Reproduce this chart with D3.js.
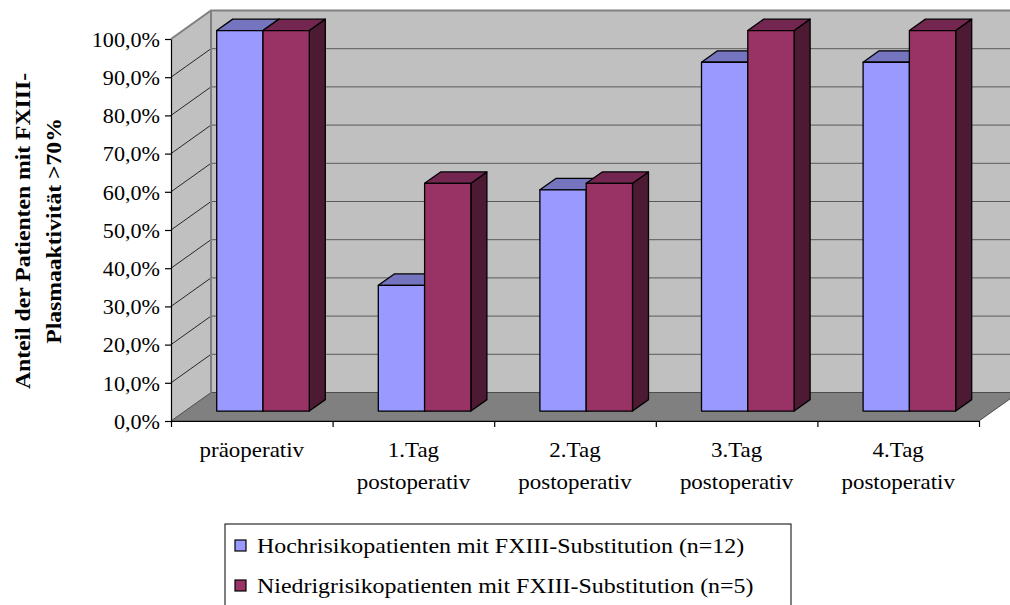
<!DOCTYPE html>
<html lang="de">
<head>
  <meta charset="UTF-8">
  <title>FXIII-Plasmaaktivität</title>
  <script src="https://cdnjs.cloudflare.com/ajax/libs/d3/7.8.5/d3.min.js"></script>
  <style>
    body {
      margin: 0;
      background: #fff;
      font-family: "Liberation Serif", "Times New Roman", serif;
    }
    svg text { fill: #000; }
  </style>
</head>
<body>
  <div id="chart"></div>
  <script>
    // Daten
    const categories = [["präoperativ"], ["1.Tag", "postoperativ"], ["2.Tag", "postoperativ"], ["3.Tag", "postoperativ"], ["4.Tag", "postoperativ"]];
    const seriesNames = ["Hochrisikopatienten mit FXIII-Substitution (n=12)", "Niedrigrisikopatienten mit FXIII-Substitution (n=5)"];
    const hochValues = [100, 33.3, 58.3, 91.7, 91.7];
    const niedrigValues = [100, 60, 60, 100, 100];
    const yTicks = [0, 10, 20, 30, 40, 50, 60, 70, 80, 90, 100];
    const yTitle = ["Anteil der Patienten mit FXIII-", "Plasmaaktivität >70%"];

    const width = 1010, height = 605;
    const DX = 40, DY = -28.5;           // Tiefe der Rückwand
    const f0 = 0.35, f1 = 0.75;          // Tiefenlage der Säulen
    const colors = [
      { front: "#9999ff", top: "#7474bf", side: "#4d4d80" },
      { front: "#993366", top: "#732650", side: "#4d1a33" }
    ];

    const svg = d3.select("#chart").append("svg")
      .attr("width", width)
      .attr("height", height);

    const x = d3.scaleBand().domain(d3.range(categories.length)).range([171, 979]);
    const xEdge = d3.scaleLinear().domain([0, categories.length]).range([171, 979]);
    const y = d3.scaleLinear().domain([0, 100]).range([421, 39]);
    const s = d3.scaleBand().domain([0, 1]).range([31.7, 124.3]);

    const x0 = x.range()[0], x1 = x.range()[1];
    const yb = y(0), yt = y(100);

    // Wände
    svg.append("polygon")
      .attr("points", [[x0, yt], [x0 + DX, yt + DY], [x0 + DX, yb + DY], [x0, yb]].join(" "))
      .attr("fill", "#c0c0c0");
    svg.append("rect")
      .attr("x", x0 + DX).attr("y", yt + DY)
      .attr("width", x1 - x0).attr("height", yb - yt)
      .attr("fill", "#c0c0c0");
    svg.append("polygon")
      .attr("points", [[x0, yb], [x0 + DX, yb + DY], [x1 + DX, yb + DY], [x1, yb]].join(" "))
      .attr("fill", "#808080")
      .attr("stroke", "#333").attr("stroke-width", 0.8);

    // Gitternetzlinien
    const grid = yTicks.filter(d => d > 0 && d < 100);
    svg.selectAll(".gridback").data(grid).enter().append("line")
      .attr("x1", x0 + DX).attr("x2", x1 + DX)
      .attr("y1", d => y(d) + DY).attr("y2", d => y(d) + DY)
      .attr("stroke", "#5a5a5a").attr("stroke-width", 1);
    svg.selectAll(".gridside").data(grid).enter().append("line")
      .attr("x1", x0).attr("x2", x0 + DX)
      .attr("y1", d => y(d)).attr("y2", d => y(d) + DY)
      .attr("stroke", "#000").attr("stroke-width", 0.8);

    // Kanten der Wände
    svg.append("path")
      .attr("d", `M${x0},${yt} L${x0 + DX},${yt + DY} L${x1 + DX},${yt + DY}`)
      .attr("fill", "none").attr("stroke", "#808080").attr("stroke-width", 2);
    svg.append("line")
      .attr("x1", x0 + DX).attr("x2", x0 + DX)
      .attr("y1", yt + DY).attr("y2", yb + DY)
      .attr("stroke", "#808080").attr("stroke-width", 2);

    // Säulen
    const ox = DX * f0, oy = DY * f0;
    const bdx = DX * (f1 - f0), bdy = DY * (f1 - f0);
    const bars = [];
    categories.forEach((c, i) => {
      [hochValues[i], niedrigValues[i]].forEach((v, j) => bars.push({ i, j, v }));
    });
    const barG = svg.selectAll(".bar").data(bars).enter().append("g").attr("class", "bar");
    barG.each(function (d) {
      const g = d3.select(this);
      const xl = x(d.i) + s(d.j) + ox, xr = xl + s.bandwidth();
      const top = y(d.v) + oy + 1.5, bot = y(0) + oy;
      const c = colors[d.j];
      g.append("polygon")
        .attr("points", [[xr, top], [xr + bdx, top + bdy], [xr + bdx, bot + bdy], [xr, bot]].join(" "))
        .attr("fill", c.side);
      g.append("polygon")
        .attr("points", [[xl, top], [xl + bdx, top + bdy], [xr + bdx, top + bdy], [xr, top]].join(" "))
        .attr("fill", c.top);
      g.append("rect")
        .attr("x", xl).attr("y", top)
        .attr("width", xr - xl).attr("height", bot - top)
        .attr("fill", c.front);
      g.selectAll("polygon, rect")
        .attr("stroke", "#000").attr("stroke-width", 1.3).attr("stroke-linejoin", "round");
    });

    // Achsen
    const yAxis = svg.append("g")
      .attr("transform", `translate(${x0},0)`)
      .call(d3.axisLeft(y).tickValues(yTicks).tickSize(6).tickSizeOuter(0)
        .tickFormat(d => d.toFixed(1).replace(".", ",") + "%"));
    yAxis.selectAll("text")
      .attr("x", -11 / 1.08)
      .attr("dy", "0.36em")
      .attr("transform", "scale(1.08,1)")
      .style("font-family", "Liberation Serif")
      .style("font-size", "20.5px");

    const xAxis = svg.append("g")
      .attr("transform", `translate(0,${yb})`)
      .call(d3.axisBottom(xEdge).tickValues(d3.range(categories.length + 1)).tickSize(6).tickSizeOuter(0).tickFormat(""));
    svg.selectAll(".domain, .tick line").attr("stroke", "#000").attr("stroke-width", 1.2);

    // Kategorienbeschriftung
    const catG = svg.selectAll(".cat").data(categories).enter().append("g")
      .attr("transform", (d, i) => `translate(${x(i) + x.bandwidth() / 2},0)`);
    catG.each(function (lines) {
      d3.select(this).selectAll("text").data(lines).enter().append("text")
        .attr("transform", (t, k) => `translate(0,${457 + k * 32}) scale(1.12,1)`)
        .attr("text-anchor", "middle")
        .style("font-size", "20.5px")
        .text(t => t);
    });

    // Achsentitel
    svg.selectAll(".ytitle").data(yTitle).enter().append("text")
      .attr("transform", (t, k) => `translate(${30 + k * 31},231) rotate(-90) scale(1.1,1)`)
      .attr("text-anchor", "middle")
      .style("font-size", "21.5px")
      .style("font-weight", "bold")
      .text(t => t);

    // Legende
    const leg = svg.append("g");
    leg.append("rect")
      .attr("x", 225).attr("y", 524).attr("width", 566).attr("height", 100)
      .attr("fill", "#fff").attr("stroke", "#000").attr("stroke-width", 1);
    const items = leg.selectAll(".item").data(seriesNames).enter().append("g")
      .attr("transform", (d, k) => `translate(235,${540 + k * 40})`);
    items.append("rect")
      .attr("width", 11).attr("height", 11)
      .attr("fill", (d, k) => colors[k].front)
      .attr("stroke", "#000").attr("stroke-width", 1.2);
    items.append("text")
      .attr("transform", "translate(22,13) scale(1.14,1)")
      .style("font-size", "21px")
      .text(d => d);
  </script>
</body>
</html>
